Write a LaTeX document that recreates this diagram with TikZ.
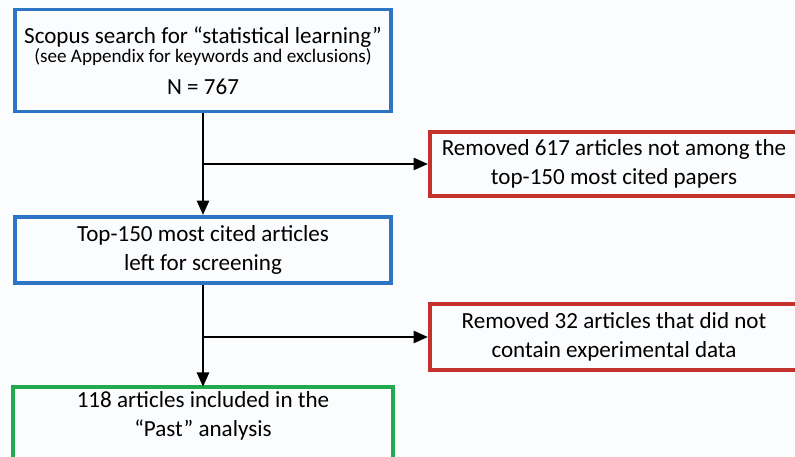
\documentclass[tikz,border=0pt]{standalone}
\usepackage{fontspec}
\setmainfont{Carlito}
\usetikzlibrary{arrows.meta,positioning,calc}
\definecolor{boxblue}{RGB}{46,116,196}
\definecolor{boxred}{RGB}{196,50,46}
\definecolor{boxgreen}{RGB}{34,170,78}
\definecolor{pagebg}{RGB}{251,252,254}

\begin{document}
\begin{tikzpicture}[
  x=0.025cm, y=-0.025cm,
  >={Triangle[length=3.6mm, width=3mm]},
  font=\fontsize{16.4}{21}\selectfont,
  box/.style={draw=#1, line width=2.5pt, minimum width=9.41cm, align=center, inner sep=2pt},
  side/.style={box=#1, minimum width=9.21cm},
  flow/.style={->, line width=1.8pt}]
\path[use as bounding box] (0,0) rectangle (795,457);
\clip (0,0) rectangle (795,457);
\fill[pagebg] (0,0) rectangle (795,457);
% main column
\node[box=boxblue, minimum height=2.54cm] (search) at (203,60.5) {Scopus search for “statistical learning”\\[-7.5pt]{\fontsize{13.6}{15}\selectfont (see Appendix for keywords and exclusions)}\\[2pt]N = 767};
\node[box=boxblue, minimum height=1.66cm] (top150) at (203,250) {Top-150 most cited articles\\left for screening};
\node[box=boxgreen, draw=none, minimum height=1.31cm] (included) at (203,416) {118 articles included in the\\“Past” analysis};
\draw[boxgreen, line width=2.5pt] ([yshift=-1cm]included.south west) |- (included.north east) -- ([yshift=-1cm]included.south east);
% exclusions
\node[side=boxred, minimum height=1.61cm] (removedA) at (614,164) {Removed 617 articles not among the\\top-150 most cited papers};
\node[side=boxred, minimum height=1.66cm] (removedB) at (614,337) {Removed 32 articles that did not\\contain experimental data};
\draw[flow] (search) -- (top150);
\draw[flow] (search.south |- removedA.west) -- (removedA.west);
\draw[flow] (top150) -- (included);
\draw[flow] (top150.south |- removedB.west) -- (removedB.west);
\end{tikzpicture}
\end{document}
